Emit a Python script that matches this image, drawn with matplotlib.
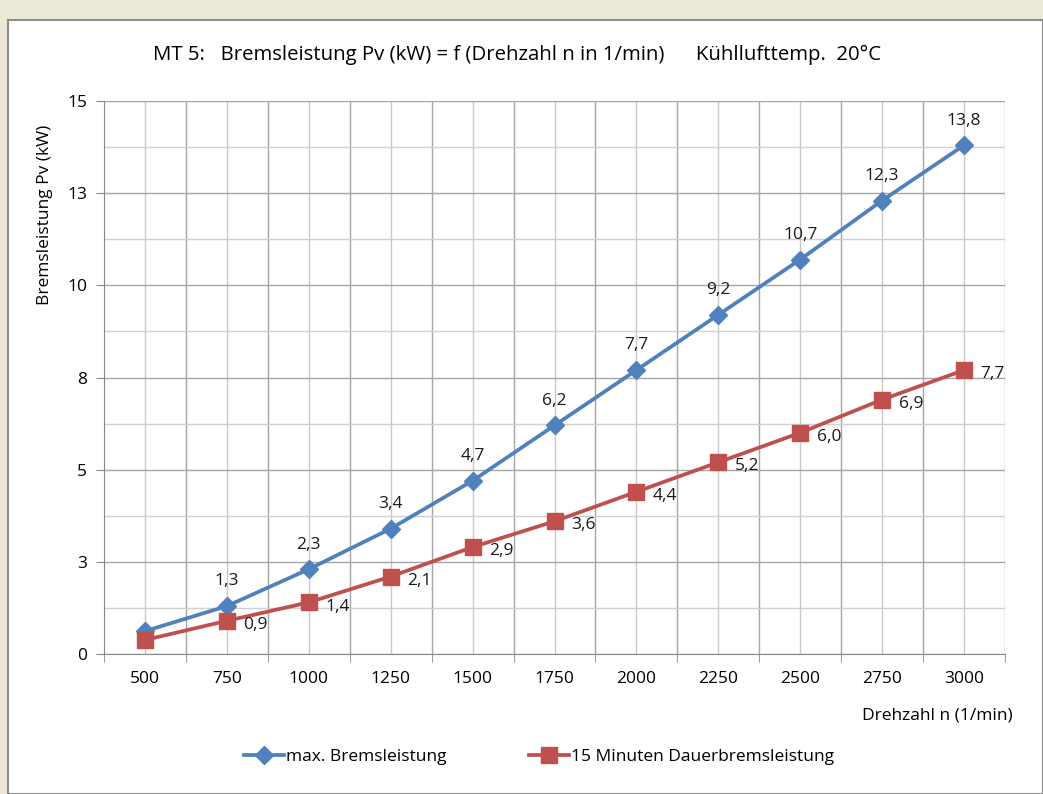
import matplotlib.pyplot as plt
from matplotlib.patches import Rectangle

# Daten aus dem Diagramm
drehzahl = [500, 750, 1000, 1250, 1500, 1750, 2000, 2250, 2500, 2750, 3000]
max_brems = [0.62, 1.3, 2.3, 3.4, 4.7, 6.2, 7.7, 9.2, 10.7, 12.3, 13.8]
dauer_brems = [0.38, 0.9, 1.4, 2.1, 2.9, 3.6, 4.4, 5.2, 6.0, 6.9, 7.7]
max_labels = ["", "1,3", "2,3", "3,4", "4,7", "6,2", "7,7", "9,2", "10,7", "12,3", "13,8"]
dauer_labels = ["", "0,9", "1,4", "2,1", "2,9", "3,6", "4,4", "5,2", "6,0", "6,9", "7,7"]
y_ticks = [0, 2.5, 5, 7.5, 10, 12.5, 15]
y_ticklabels = ["0", "3", "5", "8", "10", "13", "15"]

plt.rcParams["font.family"] = ["Open Sans", "DejaVu Sans"]

W, H = 1043, 794
fig = plt.figure(figsize=(W / 100, H / 100), dpi=100)
fig.patch.set_facecolor("#ece9d8")
# weisse Diagrammfläche mit Rahmen
fig.patches.append(Rectangle((8 / W, 0), (W - 8) / W, (H - 20) / H, transform=fig.transFigure,
                             facecolor="white", edgecolor="#8c8c8c", lw=1.5, zorder=-5))

ax = fig.add_axes([104 / W, 1 - 654 / H, (1005 - 104) / W, (654 - 101) / H])
ax.set_zorder(2)
ax.set_facecolor("white")

x = list(range(len(drehzahl)))
ax.set_xlim(-0.5, len(drehzahl) - 0.5)
ax.set_ylim(0, 15)

# Gitternetz
for i in range(len(drehzahl)):
    ax.axvline(i, color="#c8c8c8", lw=1, zorder=1)
    ax.axvline(i + 0.5, color="#a6a6a6", lw=1, zorder=1)
for k in range(13):
    yv = k * 1.25
    if k % 2 == 0:
        ax.axhline(yv, color="#a6a6a6", lw=1, zorder=1)
    else:
        ax.axhline(yv, color="#d0d0d0", lw=1, zorder=1)

ax.plot(x, max_brems, color="#4f81bd", lw=2.7, marker="D", markersize=9.5,
        label="max. Bremsleistung", zorder=3)
ax.plot(x, dauer_brems, color="#c0504d", lw=2.7, marker="s", markersize=11,
        label="15 Minuten Dauerbremsleistung", zorder=3)

for i, t in enumerate(max_labels):
    if t:
        ax.annotate(t, (x[i], max_brems[i]), xytext=(0, 12), textcoords="offset points",
                    ha="center", va="bottom", fontsize=12.5, color="#1a1a1a")
for i, t in enumerate(dauer_labels):
    if t:
        ax.annotate(t, (x[i], dauer_brems[i]), xytext=(12, -3), textcoords="offset points",
                    ha="left", va="center", fontsize=12.5, color="#1a1a1a")

ax.set_xticks(x)
ax.set_xticklabels([str(d) for d in drehzahl], fontsize=12.5)
ax.tick_params(axis="x", length=0, pad=12)
ax.set_xticks([i - 0.5 for i in range(len(drehzahl) + 1)], minor=True)
ax.tick_params(axis="x", which="minor", length=6, color="#888888", direction="out")
ax.set_yticks(y_ticks)
ax.set_yticklabels(y_ticklabels, fontsize=12.5)
ax.tick_params(axis="y", length=6, color="#888888", direction="out", pad=6)

for s in ["top", "right"]:
    ax.spines[s].set_visible(False)
for s in ["left", "bottom"]:
    ax.spines[s].set_color("#888888")

fig.text(517 / W, 1 - 55 / H,
         "MT 5:   Bremsleistung Pv (kW) = f (Drehzahl n in 1/min)      Kühllufttemp.  20°C",
         ha="center", va="center", fontsize=14.7)
fig.text(45 / W, 1 - 215 / H, "Bremsleistung Pv (kW)", rotation=90,
         ha="center", va="center", fontsize=12.5)
fig.text(1013 / W, 1 - 716 / H, "Drehzahl n (1/min)", ha="right", va="center", fontsize=12.5)

fig.legend(loc="center", bbox_to_anchor=(539 / W, 1 - 757 / H), ncol=2, frameon=False,
           fontsize=12.5, handlelength=2.3, columnspacing=4.8, handletextpad=0.1)

fig.savefig("out.png", dpi=100, facecolor=fig.get_facecolor())
